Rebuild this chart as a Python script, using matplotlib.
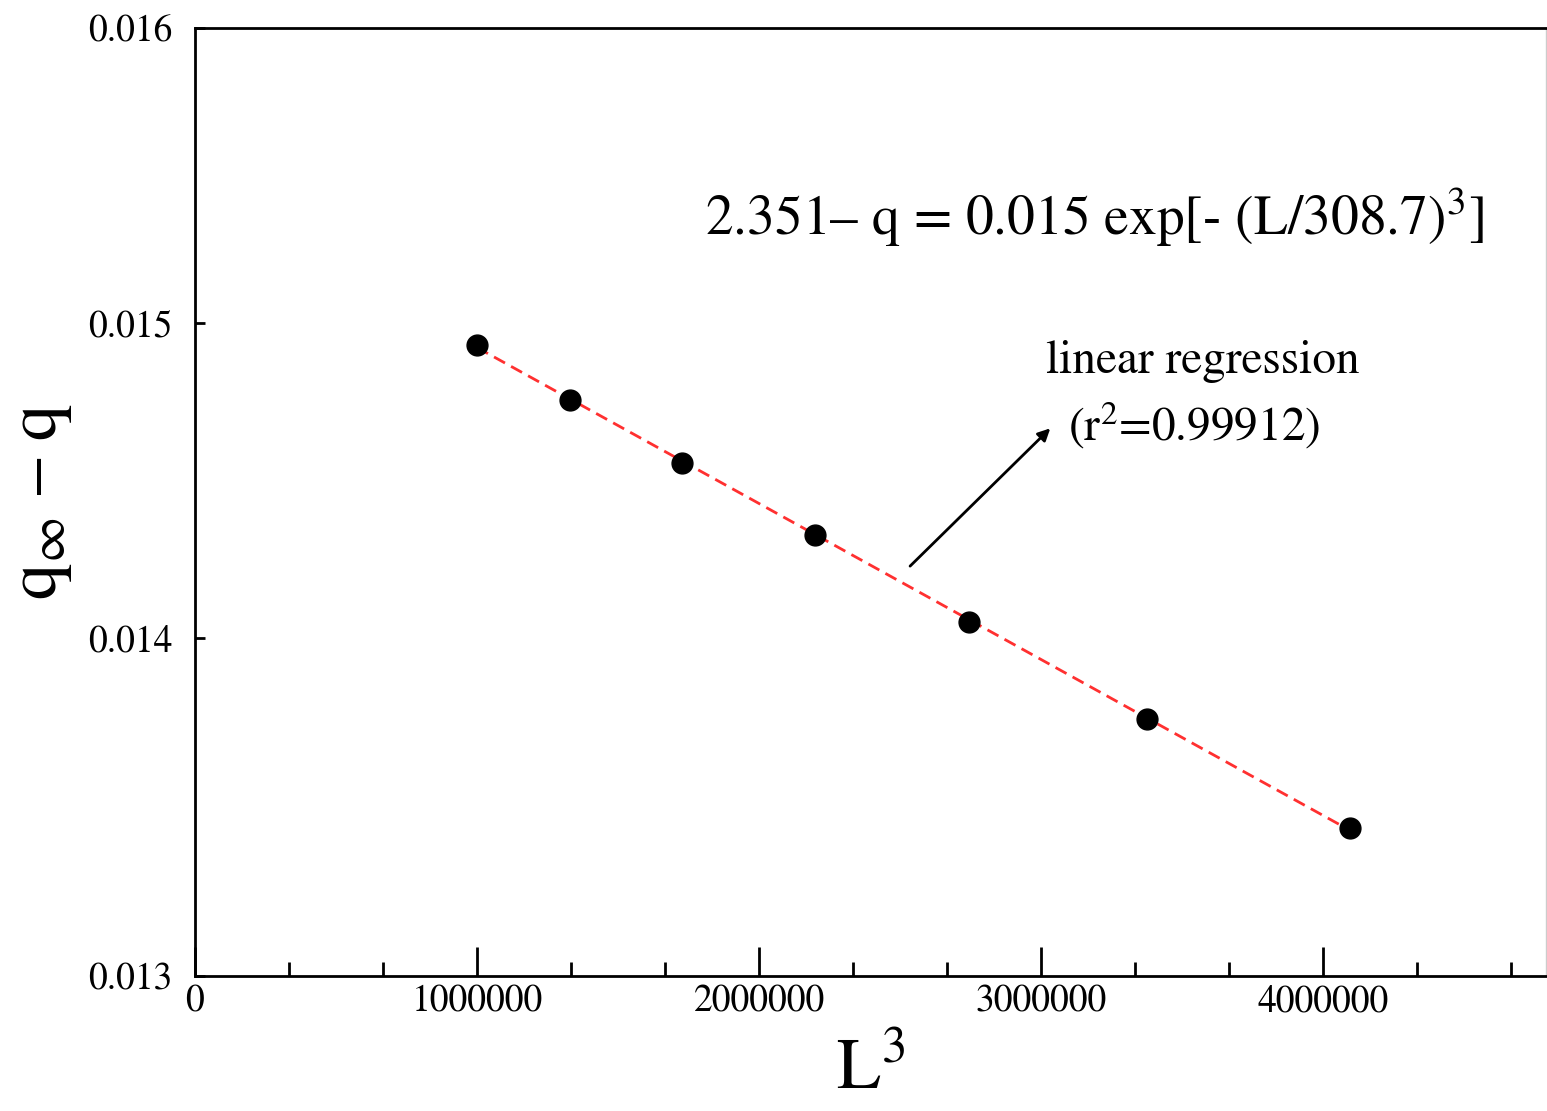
import numpy as np
import matplotlib
matplotlib.use("Agg")
import matplotlib.pyplot as plt
from matplotlib.ticker import MultipleLocator, FixedLocator, NullLocator, FormatStrFormatter

plt.rcParams['font.family'] = ['STIXGeneral', 'DejaVu Serif']
plt.rcParams['mathtext.fontset'] = 'stix'

# data
L = np.array([100, 110, 120, 130, 140, 150, 160])
L3 = L ** 3
dq = [0.014928, 0.014749, 0.014547, 0.014319, 0.014049, 0.013754, 0.013427]

yticks = [0.013, 0.014, 0.015, 0.016]
xticks = [0, 1000000, 2000000, 3000000, 4000000]

# straight line in log(y) vs L^3
b, a = np.polyfit(L3, np.log(dq), 1)
xfit = np.array([L3[0], L3[-1]])
yfit = np.exp(a + b * xfit)

fig = plt.figure(figsize=(15.47, 11.11), dpi=100)
ax = fig.add_axes([0.126, 0.1215, 0.8735, 0.8533])

ax.plot(xfit, yfit, color='#ff3030', ls=(0, (4.5, 2.5)), lw=2, zorder=2)
ax.plot(L3, dq, 'o', color='black', ms=15, zorder=3)

ax.set_yscale('log')
ax.set_xlim(0, 4.79e6)
ax.set_ylim(0.013, 0.016)

ax.yaxis.set_major_locator(FixedLocator(yticks))
ax.yaxis.set_minor_locator(NullLocator())
ax.yaxis.set_major_formatter(FormatStrFormatter('%.3f'))
ax.xaxis.set_major_locator(FixedLocator(xticks))
ax.xaxis.set_minor_locator(MultipleLocator(1e6 / 3))
ax.xaxis.set_major_formatter(FormatStrFormatter('%d'))

ax.tick_params(axis='x', which='major', direction='in', length=21, width=2,
               labelsize=27, pad=6)
ax.tick_params(axis='x', which='minor', direction='in', length=10, width=2)
ax.tick_params(axis='y', which='major', direction='in', length=7, width=2,
               labelsize=27, pad=16)

for s in ['left', 'bottom', 'top']:
    ax.spines[s].set_linewidth(2)
ax.spines['right'].set_color('#cccccc')
ax.spines['right'].set_linewidth(1)

ax.set_ylabel(r'q$_\infty$ – q', fontsize=52, labelpad=10)
ax.set_xlabel(r'L$^3$', fontsize=52, labelpad=14)

ax.text(0.3775, 0.7816, r'2.351– q = 0.015 exp[- (L/308.7)$^3$]',
        transform=ax.transAxes, fontsize=40, va='baseline', ha='left')
ax.text(0.746, 0.636, 'linear regression', transform=ax.transAxes,
        fontsize=34, va='baseline', ha='center')
ax.text(0.646, 0.565, r'(r$^2$=0.99912)', transform=ax.transAxes,
        fontsize=34, va='baseline', ha='left')

ax.annotate('', xy=(3.039e6, 0.014663), xytext=(2.528e6, 0.014215),
            arrowprops=dict(arrowstyle='-|>', color='black', lw=2,
                            mutation_scale=18))

fig.savefig('out.png', dpi=100)
